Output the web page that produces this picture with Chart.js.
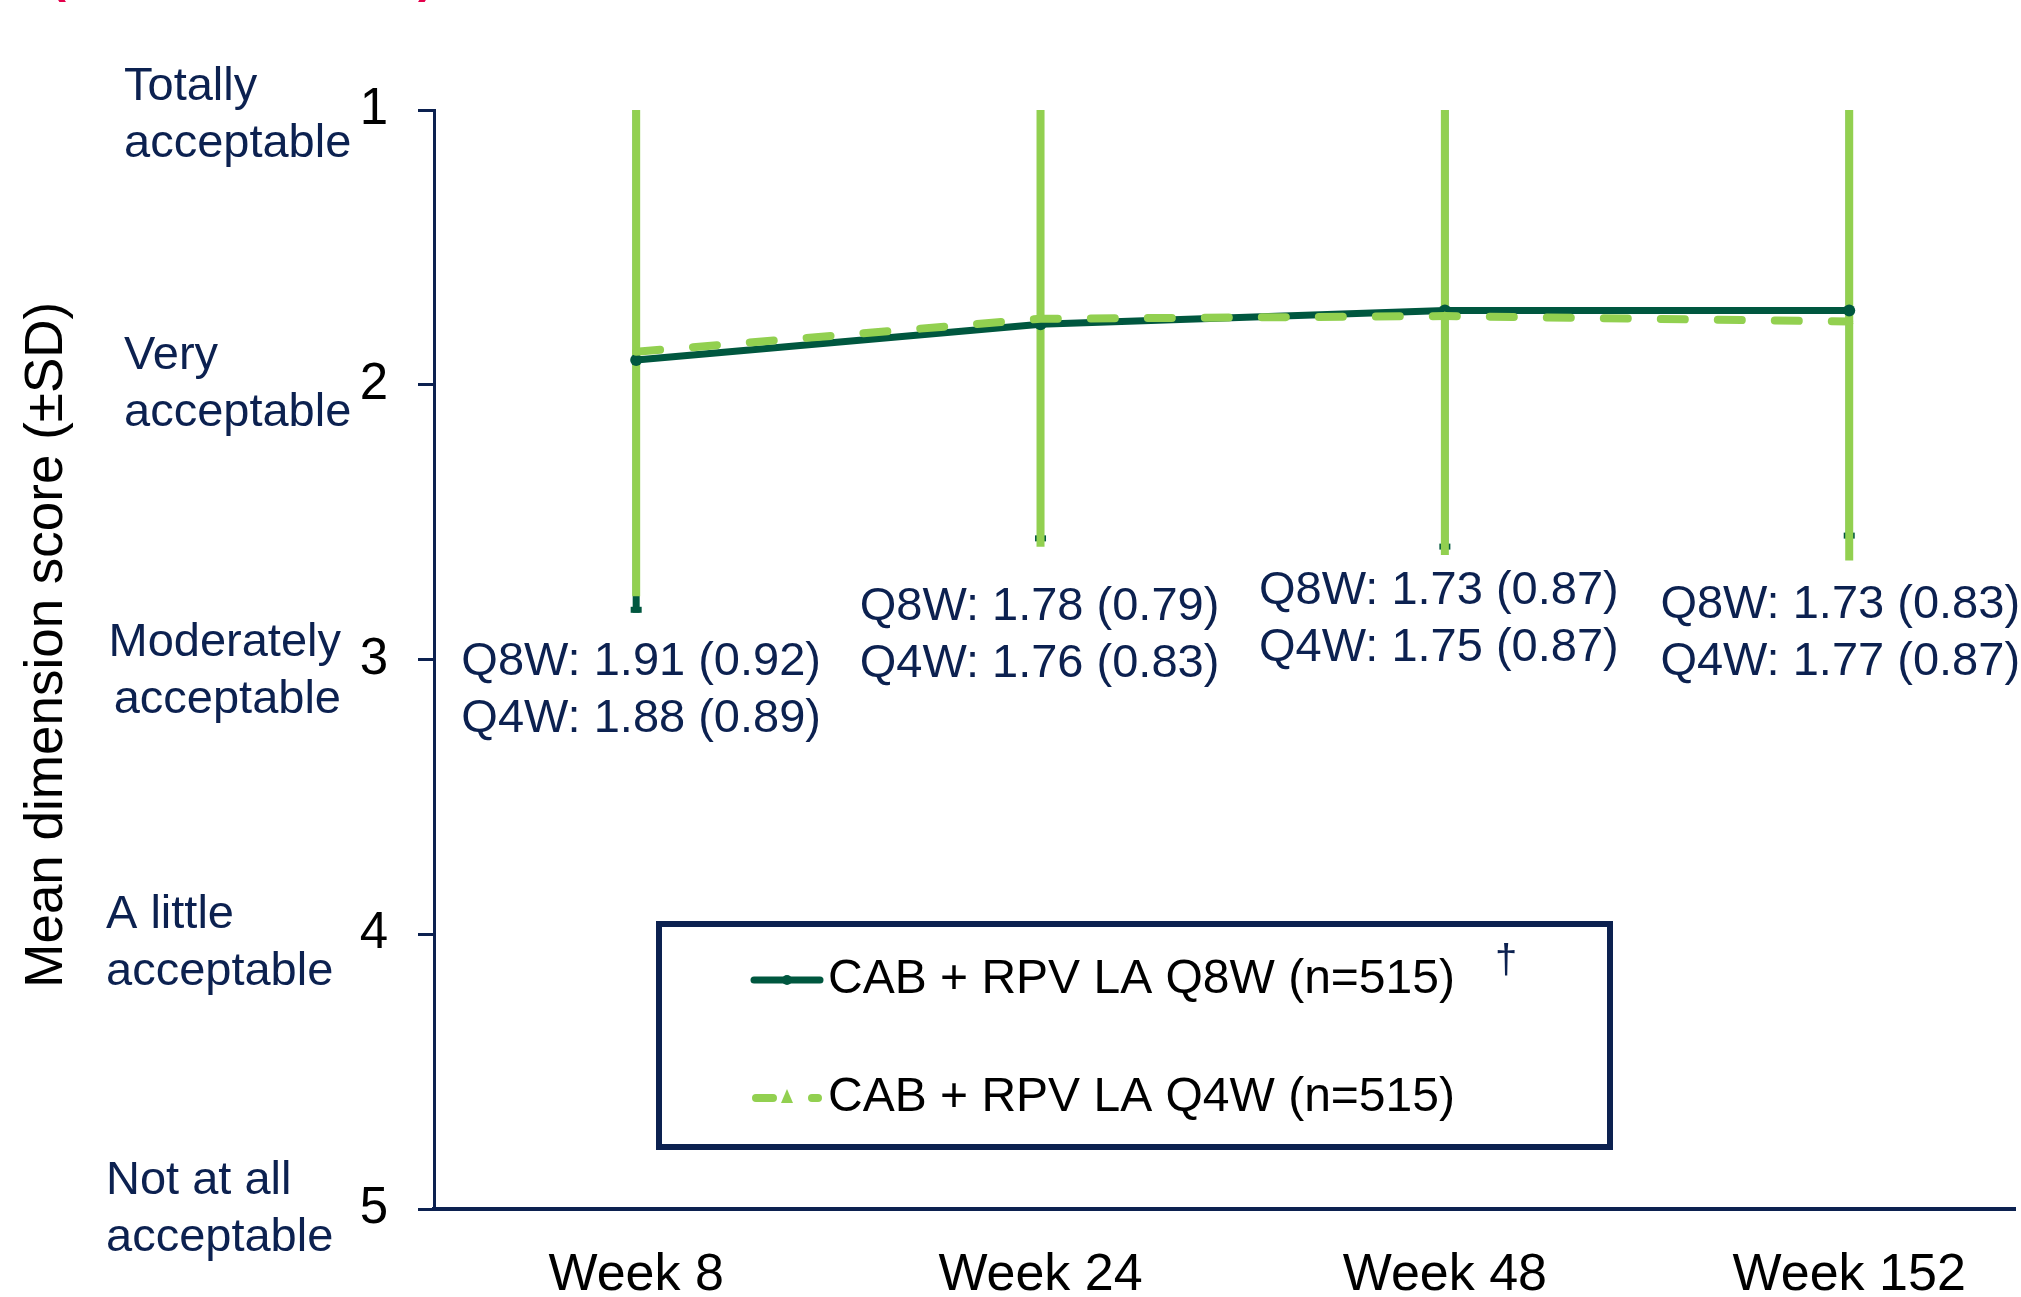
<!DOCTYPE html>
<html>
<head>
<meta charset="utf-8">
<title>Acceptability score</title>
<script src="https://cdn.jsdelivr.net/npm/chart.js@4.4.1/dist/chart.umd.min.js"></script>
<style>
    html, body { margin: 0; padding: 0; background: #fff; overflow: hidden; }
    #wrap { width: 2021px; height: 1297px; position: relative; }
    canvas { display: block; }
</style>
</head>
<body>
<div id="wrap"><canvas id="myChart"></canvas></div>
<script>
const weeks = ['Week 8', 'Week 24', 'Week 48', 'Week 152'];
const q8wMean = [1.91, 1.78, 1.73, 1.73];
const q8wSd = [0.92, 0.79, 0.87, 0.83];
const q4wMean = [1.88, 1.76, 1.75, 1.77];
const q4wSd = [0.89, 0.83, 0.87, 0.87];
const scoreTicks = [1, 2, 3, 4, 5];
const scoreNames = [
    ['Totally', 'acceptable'],
    ['Very', 'acceptable'],
    ['Moderately', 'acceptable'],
    ['A little', 'acceptable'],
    ['Not at all', 'acceptable']
];
const seriesNames = ['CAB + RPV LA Q8W (n=515)', 'CAB + RPV LA Q4W (n=515)'];

const NAVY = '#0c2150';
const DARK = '#00573f';
const LIGHT = '#92d050';
const FONT = "'Liberation Sans', Arial, sans-serif";

// error bars (mean ± SD), drawn under the lines
const errorBars = {
    id: 'errorBars',
    beforeDatasetsDraw(chart) {
        const { ctx, chartArea: a, scales: { x, y } } = chart;
        ctx.save();
        ctx.beginPath();
        ctx.rect(a.left, a.top, a.right - a.left, a.bottom - a.top);
        ctx.clip();
        [[q8wMean, q8wSd, DARK, 7, 11], [q4wMean, q4wSd, LIGHT, 8, 0]].forEach(([mean, sd, color, w, cap]) => {
            ctx.strokeStyle = color;
            ctx.fillStyle = color;
            ctx.lineWidth = w;
            ctx.lineCap = 'butt';
            mean.forEach((m, i) => {
                const px = x.getPixelForValue(i);
                const lo = y.getPixelForValue(m + sd[i]);
                ctx.beginPath();
                ctx.moveTo(px, y.getPixelForValue(m - sd[i]));
                ctx.lineTo(px, lo);
                ctx.stroke();
                if (cap) ctx.fillRect(px - cap / 2, lo - 6, cap, 6);
            });
        });
        ctx.restore();
    }
};

// value notes under each time point
const noteRows = [3.01, 2.81, 2.75, 2.80];
const noteShift = [5, -1, -6, -9];
const notes = {
    id: 'notes',
    afterDatasetsDraw(chart) {
        const { ctx, scales: { x, y } } = chart;
        ctx.save();
        ctx.font = `47px ${FONT}`;
        ctx.fillStyle = NAVY;
        ctx.textAlign = 'center';
        ctx.textBaseline = 'middle';
        weeks.forEach((w, i) => {
            const cx = x.getPixelForValue(i) + noteShift[i];
            const cy = y.getPixelForValue(noteRows[i]);
            ctx.fillText(`Q8W: ${q8wMean[i].toFixed(2)} (${q8wSd[i].toFixed(2)})`, cx, cy);
            ctx.fillText(`Q4W: ${q4wMean[i].toFixed(2)} (${q4wSd[i].toFixed(2)})`, cx, cy + 57);
        });
        ctx.restore();
    }
};

// verbal anchors next to the score ticks
const nameX = [124, 124, 341, 106, 106];
const nameAlign = ['left', 'left', 'right', 'left', 'left'];
const nameOffset = [-23, -29, -16, -19, -28];
const anchors = {
    id: 'anchors',
    afterDraw(chart) {
        const { ctx, scales: { y } } = chart;
        ctx.save();
        ctx.font = `47px ${FONT}`;
        ctx.fillStyle = NAVY;
        ctx.textBaseline = 'middle';
        scoreNames.forEach((lines, i) => {
            const cy = y.getPixelForValue(scoreTicks[i]) + nameOffset[i];
            ctx.textAlign = nameAlign[i];
            lines.forEach((t, j) => ctx.fillText(t, nameX[i], cy + j * 57));
        });
        // clipped heading remnant at the very top
        ctx.fillStyle = '#e4004b';
        ctx.font = `bold 48px ${FONT}`;
        ctx.textBaseline = 'alphabetic';
        ctx.textAlign = 'left';
        ctx.fillText('(', 50, -8);
        ctx.fillText(')', 418, -8);
        ctx.restore();
    }
};

// boxed legend inside the plot
const boxLegend = {
    id: 'boxLegend',
    afterDraw(chart) {
        const { ctx } = chart;
        ctx.save();
        ctx.strokeStyle = NAVY;
        ctx.lineWidth = 6;
        ctx.strokeRect(659, 924, 951, 223);

        const rows = [980, 1098];
        // Q8W sample
        ctx.strokeStyle = DARK;
        ctx.lineWidth = 7;
        ctx.lineCap = 'round';
        ctx.beginPath();
        ctx.moveTo(754, rows[0]);
        ctx.lineTo(820, rows[0]);
        ctx.stroke();
        ctx.fillStyle = DARK;
        ctx.beginPath();
        ctx.arc(787, rows[0], 5, 0, Math.PI * 2);
        ctx.fill();
        // Q4W sample
        ctx.strokeStyle = LIGHT;
        ctx.lineWidth = 8;
        ctx.beginPath();
        ctx.moveTo(756, rows[1]);
        ctx.lineTo(773, rows[1]);
        ctx.moveTo(812, rows[1]);
        ctx.lineTo(818, rows[1]);
        ctx.stroke();
        ctx.fillStyle = LIGHT;
        ctx.beginPath();
        ctx.moveTo(787, rows[1] - 9);
        ctx.lineTo(793, rows[1] + 5);
        ctx.lineTo(781, rows[1] + 5);
        ctx.closePath();
        ctx.fill();

        ctx.font = `48px ${FONT}`;
        ctx.fillStyle = '#000';
        ctx.textBaseline = 'middle';
        ctx.textAlign = 'left';
        seriesNames.forEach((s, i) => ctx.fillText(s, 828, rows[i]));
        ctx.fillStyle = NAVY;
        ctx.font = `40px ${FONT}`;
        ctx.textAlign = 'center';
        ctx.fillText('†', 1506, 962);
        ctx.restore();
    }
};

const ctx = document.getElementById('myChart').getContext('2d');
new Chart(ctx, {
    type: 'line',
    data: {
        datasets: [
            {
                label: seriesNames[1],
                data: q4wMean.map((v, i) => ({ x: i, y: v })),
                borderColor: LIGHT,
                backgroundColor: LIGHT,
                borderWidth: 8,
                borderDash: [24, 33],
                borderCapStyle: 'round',
                pointStyle: 'triangle',
                pointRadius: 5,
                pointBorderWidth: 0,
                tension: 0,
                order: 0
            },
            {
                label: seriesNames[0],
                data: q8wMean.map((v, i) => ({ x: i, y: v })),
                borderColor: DARK,
                backgroundColor: DARK,
                borderWidth: 7,
                pointStyle: 'circle',
                pointRadius: 6,
                pointBorderWidth: 0,
                tension: 0,
                order: 1
            }
        ]
    },
    options: {
        responsive: true,
        maintainAspectRatio: false,
        animation: false,
        layout: { padding: { top: 110, left: 0, right: 0, bottom: 0 } },
        plugins: {
            legend: { display: false },
            tooltip: { enabled: false }
        },
        scales: {
            x: {
                type: 'linear',
                min: -0.5,
                max: 3.41,
                afterBuildTicks: (scale) => { scale.ticks = weeks.map((w, i) => ({ value: i })); },
                afterFit: (scale) => { scale.height = 88; },
                ticks: {
                    callback: (v) => weeks[v],
                    font: { family: FONT, size: 52 },
                    color: '#000',
                    padding: 35,
                    maxRotation: 0,
                    autoSkip: false
                },
                grid: { display: false, drawTicks: false },
                border: { color: NAVY, width: 4 }
            },
            y: {
                type: 'linear',
                reverse: true,
                min: 1,
                max: 5,
                afterBuildTicks: (scale) => { scale.ticks = scoreTicks.map(v => ({ value: v })); },
                afterFit: (scale) => { scale.width = 434; },
                ticks: { font: { family: FONT, size: 51 }, color: '#000', padding: 30 },
                grid: { drawOnChartArea: false, drawTicks: true, tickLength: 16, color: NAVY, lineWidth: 3 },
                border: { color: NAVY, width: 3 },
                title: {
                    display: true,
                    text: '  Mean dimension score (±SD)',
                    font: { family: FONT, size: 53 },
                    color: '#000',
                    padding: { top: 16, bottom: 0 }
                }
            }
        }
    },
    plugins: [errorBars, notes, anchors, boxLegend]
});
</script>
</body>
</html>
